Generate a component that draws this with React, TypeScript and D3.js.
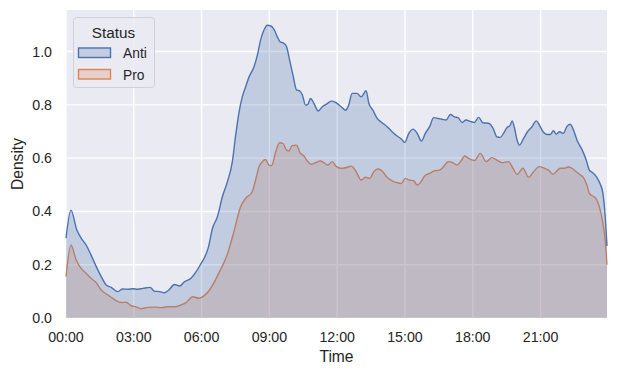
import React from 'react';
import * as d3 from 'd3';

// hours since midnight and KDE density for each status
const antiHours = [0, 0.22, 0.48, 0.67, 0.89, 1.11, 1.34, 1.56, 1.78, 2.0, 2.29, 2.51, 2.74, 2.96, 3.18, 3.4, 3.72, 3.91, 4.14, 4.36, 4.55, 4.8, 5.02, 5.24, 5.53, 5.76, 5.98, 6.12, 6.3, 6.48, 6.7, 6.92, 7.14, 7.36, 7.51, 7.66, 7.8, 7.95, 8.1, 8.32, 8.47, 8.61, 8.76, 8.91, 9.05, 9.2, 9.35, 9.47, 9.64, 9.76, 9.91, 10.06, 10.2, 10.35, 10.46, 10.6, 10.7, 10.82, 10.97, 11.16, 11.34, 11.53, 11.74, 11.93, 12.15, 12.37, 12.51, 12.66, 12.88, 13.06, 13.28, 13.4, 13.58, 13.77, 13.99, 14.21, 14.43, 14.65, 14.84, 14.99, 15.17, 15.36, 15.54, 15.73, 15.9, 16.09, 16.27, 16.46, 16.64, 16.82, 17.01, 17.19, 17.35, 17.53, 17.7, 17.89, 18.07, 18.26, 18.45, 18.7, 18.9, 19.07, 19.22, 19.36, 19.51, 19.66, 19.74, 19.85, 19.96, 20.07, 20.25, 20.42, 20.62, 20.81, 20.95, 21.11, 21.28, 21.43, 21.57, 21.69, 21.84, 22.01, 22.16, 22.31, 22.46, 22.61, 22.83, 23.02, 23.16, 23.31, 23.49, 23.64, 23.76, 23.86, 23.94];
const antiDensity = [0.3, 0.405, 0.33, 0.3, 0.274, 0.236, 0.193, 0.155, 0.124, 0.115, 0.099, 0.109, 0.108, 0.11, 0.108, 0.111, 0.115, 0.101, 0.099, 0.095, 0.105, 0.126, 0.12, 0.136, 0.149, 0.174, 0.205, 0.225, 0.265, 0.336, 0.38, 0.455, 0.511, 0.586, 0.687, 0.774, 0.83, 0.868, 0.905, 0.943, 0.987, 1.043, 1.081, 1.099, 1.097, 1.084, 1.056, 1.037, 1.031, 1.018, 0.962, 0.905, 0.856, 0.852, 0.837, 0.799, 0.802, 0.824, 0.806, 0.777, 0.793, 0.803, 0.814, 0.809, 0.795, 0.78, 0.799, 0.843, 0.843, 0.83, 0.853, 0.806, 0.78, 0.749, 0.733, 0.718, 0.699, 0.683, 0.672, 0.659, 0.693, 0.709, 0.693, 0.664, 0.693, 0.718, 0.752, 0.749, 0.746, 0.743, 0.764, 0.755, 0.752, 0.734, 0.743, 0.738, 0.734, 0.753, 0.733, 0.731, 0.712, 0.68, 0.678, 0.693, 0.714, 0.724, 0.74, 0.712, 0.668, 0.649, 0.674, 0.699, 0.718, 0.74, 0.724, 0.699, 0.689, 0.689, 0.703, 0.69, 0.699, 0.693, 0.718, 0.727, 0.705, 0.668, 0.633, 0.593, 0.555, 0.545, 0.528, 0.503, 0.468, 0.38, 0.27];

const proHours = [0, 0.22, 0.45, 0.67, 0.89, 1.11, 1.34, 1.56, 1.78, 2.0, 2.22, 2.44, 2.66, 2.88, 3.1, 3.32, 3.62, 3.91, 4.21, 4.5, 4.8, 5.09, 5.31, 5.61, 5.9, 6.12, 6.35, 6.49, 6.8, 7.14, 7.43, 7.73, 7.95, 8.24, 8.39, 8.54, 8.69, 8.83, 8.98, 9.1, 9.28, 9.45, 9.6, 9.76, 9.86, 10.01, 10.2, 10.35, 10.56, 10.7, 10.85, 11.04, 11.26, 11.41, 11.59, 11.78, 11.97, 12.15, 12.37, 12.63, 12.84, 13.06, 13.25, 13.44, 13.62, 13.8, 13.99, 14.21, 14.43, 14.65, 14.83, 15.02, 15.17, 15.39, 15.54, 15.68, 15.87, 16.09, 16.3, 16.52, 16.71, 16.91, 17.11, 17.3, 17.49, 17.64, 17.82, 18.08, 18.33, 18.6, 18.85, 19.07, 19.29, 19.58, 19.78, 19.96, 20.22, 20.47, 20.69, 20.94, 21.16, 21.35, 21.55, 21.69, 21.87, 22.05, 22.21, 22.39, 22.58, 22.76, 22.9, 23.05, 23.16, 23.31, 23.45, 23.6, 23.76, 23.86, 23.94];
const proDensity = [0.155, 0.274, 0.218, 0.186, 0.168, 0.149, 0.132, 0.105, 0.09, 0.078, 0.065, 0.058, 0.059, 0.046, 0.042, 0.035, 0.04, 0.041, 0.039, 0.042, 0.042, 0.049, 0.058, 0.08, 0.074, 0.084, 0.105, 0.124, 0.175, 0.239, 0.324, 0.418, 0.449, 0.474, 0.518, 0.568, 0.587, 0.595, 0.574, 0.572, 0.624, 0.658, 0.655, 0.63, 0.627, 0.647, 0.649, 0.622, 0.605, 0.587, 0.577, 0.583, 0.589, 0.583, 0.574, 0.587, 0.568, 0.562, 0.564, 0.57, 0.549, 0.518, 0.528, 0.524, 0.549, 0.559, 0.552, 0.528, 0.515, 0.508, 0.505, 0.524, 0.518, 0.515, 0.499, 0.508, 0.533, 0.543, 0.552, 0.555, 0.568, 0.587, 0.583, 0.574, 0.59, 0.608, 0.599, 0.591, 0.618, 0.587, 0.602, 0.593, 0.583, 0.587, 0.562, 0.539, 0.562, 0.528, 0.549, 0.568, 0.562, 0.555, 0.54, 0.549, 0.562, 0.562, 0.567, 0.562, 0.549, 0.537, 0.527, 0.499, 0.468, 0.458, 0.449, 0.418, 0.355, 0.293, 0.2];

const xTicks = [0, 3, 6, 9, 12, 15, 18, 21];
const xTickLabels = ['00:00', '03:00', '06:00', '09:00', '12:00', '15:00', '18:00', '21:00'];
const yTicks = [0, 0.2, 0.4, 0.6, 0.8, 1.0];
const statuses = ['Anti', 'Pro'];
const colors = ['#4C72B0', '#DD8452'];

const W = 617, H = 375;
const m = { left: 66, right: 10, top: 10, bottom: 57 };

export default function App() {
  const x = d3.scaleLinear().domain([0, 23.94]).range([m.left, W - m.right]);
  const y = d3.scaleLinear().domain([0, 1.156]).range([H - m.bottom, m.top]);

  const series = [
    { name: 'Anti', hours: antiHours, dens: antiDensity, color: colors[0] },
    { name: 'Pro', hours: proHours, dens: proDensity, color: colors[1] },
  ];

  const area = d3.area<[number, number]>()
    .x(d => x(d[0])).y0(y(0)).y1(d => y(d[1]))
    .curve(d3.curveMonotoneX);
  const line = d3.line<[number, number]>()
    .x(d => x(d[0])).y(d => y(d[1]))
    .curve(d3.curveMonotoneX);

  const font = '"Liberation Sans", Arial, sans-serif';
  const tickSize = 14.2, labelSize = 15.6;

  // seaborn draws the hue levels in reverse, so Pro goes first
  const drawOrder = [...series].reverse();

  return (
    <svg width={W} height={H} style={{ position: 'absolute', left: 0, top: 0 }} fontFamily={font}>
      <rect x={m.left} y={m.top} width={W - m.left - m.right} height={H - m.top - m.bottom} fill="#EAEAF2" />
      {xTicks.map(t => (
        <line key={'gx' + t} x1={x(t)} x2={x(t)} y1={m.top} y2={H - m.bottom} stroke="#fff" strokeWidth={1.4} />
      ))}
      {yTicks.map(t => (
        <line key={'gy' + t} x1={m.left} x2={W - m.right} y1={y(t)} y2={y(t)} stroke="#fff" strokeWidth={1.4} />
      ))}

      {drawOrder.map(s => {
        const pts = s.hours.map((h, i) => [h, s.dens[i]] as [number, number]);
        return (
          <g key={s.name}>
            <path d={area(pts) || ''} fill={s.color} fillOpacity={0.25} />
            <path d={line(pts) || ''} fill="none" stroke={s.color} strokeWidth={1.4} strokeLinejoin="round" />
          </g>
        );
      })}

      {xTicks.map((t, i) => (
        <text key={'tx' + t} x={x(t)} y={H - m.bottom + 24} textAnchor="middle" fontSize={tickSize} fill="#262626">{xTickLabels[i]}</text>
      ))}
      {yTicks.map(t => (
        <text key={'ty' + t} x={m.left - 14} y={y(t) + 5} textAnchor="end" fontSize={tickSize} fill="#262626">{t.toFixed(1)}</text>
      ))}
      <text x={(m.left + W - m.right) / 2} y={H - 13} textAnchor="middle" fontSize={labelSize} fill="#262626">Time</text>
      <text transform={`translate(22.5,${(m.top + H - m.bottom) / 2}) rotate(-90)`} textAnchor="middle" fontSize={labelSize} fill="#262626">Density</text>

      {/* legend */}
      <g transform="translate(73,17)">
        <rect x={0.5} y={0.5} width={81} height={70} rx={3} fill="#EAEAF2" fillOpacity={0.8} stroke="#d0d0d8" />
        <text x={40.5} y={20.5} textAnchor="middle" fontSize={15.3} fill="#262626">Status</text>
        {statuses.map((st, i) => (
          <g key={st} transform={`translate(5,${30.5 + i * 21.5})`}>
            <rect x={0.5} y={0.5} width={32} height={9.5} fill={colors[i]} fillOpacity={0.25} stroke={colors[i]} strokeWidth={1.4} />
            <text x={45} y={10.5} fontSize={13.8} fill="#262626">{st}</text>
          </g>
        ))}
      </g>
    </svg>
  );
}
